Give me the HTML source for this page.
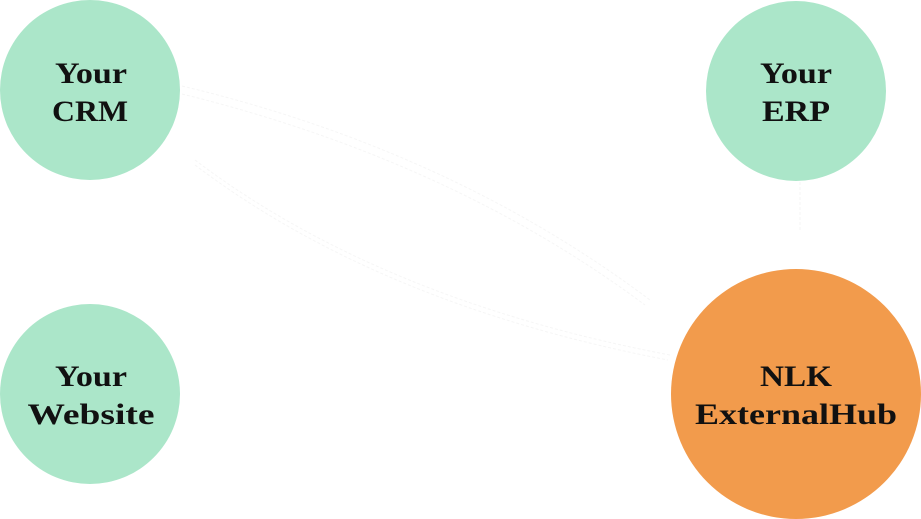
<!DOCTYPE html>
<html><head><style>
html,body{margin:0;padding:0;background:#fff;width:921px;height:519px;overflow:hidden}
svg text{font-family:"Liberation Serif",serif;font-weight:bold;font-size:30px;fill:#111;text-anchor:middle}
</style></head><body>
<svg width="921" height="519" viewBox="0 0 921 519">
<g stroke="#f6f6f6" stroke-width="1" fill="none" stroke-dasharray="3 2">
<path d="M182 86 Q450 150 650 300"/>
<path d="M182 94 Q450 160 645 305"/>
<path d="M195 160 Q380 300 670 355"/>
<path d="M195 165 Q380 305 668 360"/>
<path d="M800 182 L800 230"/>
</g>
<circle cx="90" cy="90" r="90" fill="#abe6c9"/>
<circle cx="796" cy="91" r="90" fill="#abe6c9"/>
<circle cx="90" cy="394" r="90" fill="#abe6c9"/>
<circle cx="796" cy="394" r="125" fill="#f29b4c"/>
<text x="91" y="83" textLength="72" lengthAdjust="spacingAndGlyphs">Your</text>
<text x="90" y="121" textLength="76" lengthAdjust="spacingAndGlyphs">CRM</text>
<text x="796" y="83" textLength="72" lengthAdjust="spacingAndGlyphs">Your</text>
<text x="796" y="121" textLength="68" lengthAdjust="spacingAndGlyphs">ERP</text>
<text x="91" y="386" textLength="72" lengthAdjust="spacingAndGlyphs">Your</text>
<text x="91" y="424" textLength="127" lengthAdjust="spacingAndGlyphs">Website</text>
<text x="796" y="386" textLength="72" lengthAdjust="spacingAndGlyphs">NLK</text>
<text x="796" y="424" textLength="202" lengthAdjust="spacingAndGlyphs">ExternalHub</text>
</svg>
</body></html>
